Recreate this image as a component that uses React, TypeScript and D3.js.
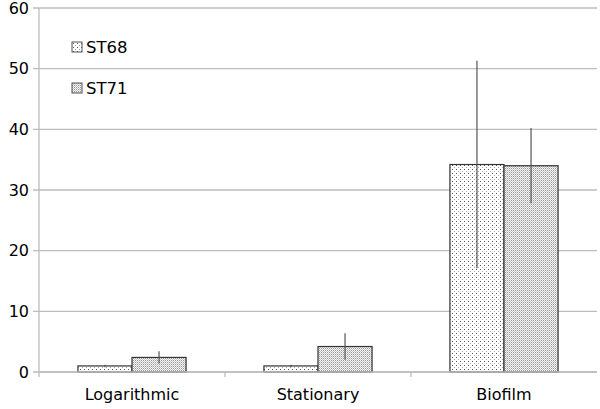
import { useEffect, useRef } from 'react';
import * as d3 from 'd3';

const categories = ['Logarithmic', 'Stationary', 'Biofilm'];
const seriesNames = ['ST68', 'ST71'];
const st68 = [1.0, 1.0, 34.2];
const st71 = [2.4, 4.2, 34.0];
const st68Err = [0.2, 0.2, 17.1];
const st71Err = [1.0, 2.2, 6.2];
const yTicks = [0, 10, 20, 30, 40, 50, 60];

export default function App() {
  const svgRef = useRef<SVGSVGElement>(null);

  useEffect(() => {
    const W = 600, H = 409;
    const margin = { top: 8, right: 3, bottom: 37, left: 39 };
    const width = W - margin.left - margin.right;
    const height = H - margin.top - margin.bottom;
    const font = 'DejaVu Sans, Verdana, sans-serif';

    const root = d3.select(svgRef.current);
    root.selectAll('*').remove();
    root.attr('width', W).attr('height', H);

    // dotted fills
    const defs = root.append('defs');
    const p1 = defs.append('pattern').attr('id', 'pat68').attr('width', 4).attr('height', 4)
      .attr('patternUnits', 'userSpaceOnUse');
    p1.append('rect').attr('width', 4).attr('height', 4).attr('fill', '#fff');
    p1.append('rect').attr('x', 1).attr('y', 1).attr('width', 1).attr('height', 1).attr('fill', '#555');
    p1.append('rect').attr('x', 3).attr('y', 3).attr('width', 1).attr('height', 1).attr('fill', '#aaa');
    const p2 = defs.append('pattern').attr('id', 'pat71').attr('width', 2).attr('height', 2)
      .attr('patternUnits', 'userSpaceOnUse');
    p2.append('rect').attr('width', 2).attr('height', 2).attr('fill', '#f6f6f6');
    p2.append('rect').attr('x', 0).attr('y', 0).attr('width', 1).attr('height', 1).attr('fill', '#999');
    p2.append('rect').attr('x', 1).attr('y', 1).attr('width', 1).attr('height', 1).attr('fill', '#c4c4c4');

    const svg = root.append('g').attr('transform', `translate(${margin.left},${margin.top})`);

    const x0 = d3.scaleBand().domain(categories).range([0, width]).paddingInner(0).paddingOuter(0);
    const x1 = d3.scaleBand().domain(seriesNames).range([0, x0.bandwidth()]).paddingOuter(0.72).paddingInner(0);
    const y = d3.scaleLinear().domain([0, 60]).range([height, 0]);

    // gridlines
    svg.append('g').selectAll('line').data(yTicks).enter().append('line')
      .attr('x1', -6).attr('x2', width)
      .attr('y1', d => y(d)).attr('y2', d => y(d))
      .attr('stroke', '#bdbdbd').attr('stroke-width', 1.3);

    // y axis line
    svg.append('line').attr('x1', 0).attr('x2', 0).attr('y1', 0).attr('y2', height + 5)
      .attr('stroke', '#bdbdbd').attr('stroke-width', 1.3);

    // y tick labels
    svg.append('g').selectAll('text').data(yTicks).enter().append('text')
      .attr('x', -10).attr('y', d => y(d)).attr('dy', '0.36em')
      .attr('text-anchor', 'end')
      .style('font-family', font).style('font-size', '16px').style('fill', '#000')
      .text(d => d);

    // x category ticks
    const bounds = categories.map(c => (x0(c) as number)).slice(1);
    svg.append('g').selectAll('line').data(bounds).enter().append('line')
      .attr('x1', d => d).attr('x2', d => d).attr('y1', height).attr('y2', height + 5)
      .attr('stroke', '#bdbdbd').attr('stroke-width', 1.3);

    // category labels
    svg.append('g').selectAll('text').data(categories).enter().append('text')
      .attr('x', d => (x0(d) as number) + x0.bandwidth() / 2).attr('y', height + 28)
      .attr('text-anchor', 'middle')
      .style('font-family', font).style('font-size', '16px').style('fill', '#000')
      .text(d => d);

    const series = [
      { name: 'ST68', values: st68, errs: st68Err, fill: 'url(#pat68)' },
      { name: 'ST71', values: st71, errs: st71Err, fill: 'url(#pat71)' },
    ];

    series.forEach(s => {
      const g = svg.append('g');
      g.selectAll('rect').data(categories).enter().append('rect')
        .attr('x', c => (x0(c) as number) + (x1(s.name) as number))
        .attr('y', (c, i) => y(s.values[i]))
        .attr('width', x1.bandwidth())
        .attr('height', (c, i) => height - y(s.values[i]))
        .attr('fill', s.fill)
        .attr('stroke', '#333').attr('stroke-width', 1.2);
    });

    series.forEach(s => {
      svg.append('g').selectAll('line').data(categories).enter().append('line')
        .attr('x1', c => (x0(c) as number) + (x1(s.name) as number) + x1.bandwidth() / 2)
        .attr('x2', c => (x0(c) as number) + (x1(s.name) as number) + x1.bandwidth() / 2)
        .attr('y1', (c, i) => y(s.values[i] + s.errs[i]))
        .attr('y2', (c, i) => y(Math.max(0, s.values[i] - s.errs[i])))
        .attr('stroke', '#555').attr('stroke-width', 1.2);
    });

    // x axis baseline
    svg.append('line').attr('x1', 0).attr('x2', width).attr('y1', height).attr('y2', height)
      .attr('stroke', '#bdbdbd').attr('stroke-width', 1.3);

    // legend
    const legend = svg.append('g').attr('transform', 'translate(33, 34)');
    series.forEach((s, i) => {
      const row = legend.append('g').attr('transform', `translate(0, ${i * 41})`);
      row.append('rect').attr('x', 0).attr('y', 0).attr('width', 10).attr('height', 10)
        .attr('fill', s.fill).attr('stroke', '#555').attr('stroke-width', 1);
      row.append('text').attr('x', 14).attr('y', 5).attr('dy', '0.36em')
        .style('font-family', font).style('font-size', '16.5px').style('fill', '#000')
        .text(s.name);
    });
  }, []);

  return <svg ref={svgRef} style={{ position: 'absolute', left: 0, top: 0, background: '#fff' }}></svg>;
}
